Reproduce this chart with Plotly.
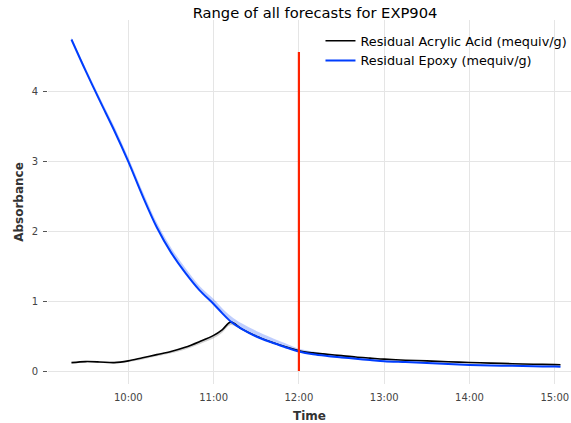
import plotly.graph_objects as go

day = "2023-01-01 "
times = ["09:20", "09:30", "09:40", "09:50", "10:00", "10:10", "10:20", "10:30", "10:40", "10:50",
         "11:00", "11:06", "11:12", "11:20", "11:30", "11:40", "11:50", "12:00", "12:10", "12:20",
         "12:30", "12:40", "12:50", "13:00", "13:15", "13:30", "13:45", "14:00", "14:15", "14:30",
         "14:45", "15:00", "15:04"]

acrylic = [0.12, 0.135, 0.13, 0.12, 0.145, 0.19, 0.235, 0.28, 0.34, 0.42,
           0.51, 0.59, 0.70, 0.60, 0.50, 0.42, 0.35, 0.29, 0.26, 0.24,
           0.22, 0.20, 0.185, 0.17, 0.155, 0.145, 0.132, 0.122, 0.113, 0.105,
           0.098, 0.092, 0.09]
acrylic_low = [0.11, 0.125, 0.12, 0.11, 0.13, 0.165, 0.21, 0.255, 0.31, 0.385,
               0.47, 0.55, 0.66, 0.59, 0.49, 0.41, 0.34, 0.28, 0.25, 0.23,
               0.21, 0.19, 0.175, 0.16, 0.145, 0.135, 0.122, 0.112, 0.104, 0.096,
               0.09, 0.085, 0.083]

epoxy = [4.75, 4.30, 3.87, 3.45, 3.0, 2.51, 2.06, 1.70, 1.41, 1.16,
         0.96, 0.83, 0.71, 0.60, 0.495, 0.415, 0.345, 0.28, 0.24, 0.215,
         0.195, 0.175, 0.158, 0.14, 0.128, 0.115, 0.10, 0.088, 0.08, 0.074,
         0.068, 0.063, 0.062]
epoxy_high = [4.78, 4.34, 3.92, 3.51, 3.06, 2.58, 2.13, 1.77, 1.48, 1.22,
              1.03, 0.90, 0.79, 0.68, 0.575, 0.485, 0.40, 0.32, 0.28, 0.245,
              0.22, 0.195, 0.175, 0.155, 0.14, 0.126, 0.11, 0.097, 0.088, 0.081,
              0.075, 0.07, 0.069]

cutoff_time = "12:00"
cutoff_range = [0, 4.57]

y_ticks = [0, 1, 2, 3, 4]

x = [day + t for t in times]
spl = dict(shape="spline", smoothing=0.9)

fig = go.Figure()

# forecast ranges
fig.add_trace(go.Scatter(x=x, y=acrylic_low, mode="lines", line=dict(width=0, **spl),
                         showlegend=False, hoverinfo="skip"))
fig.add_trace(go.Scatter(x=x, y=acrylic, mode="lines", line=dict(width=0, **spl), fill="tonexty",
                         fillcolor="rgba(120,120,120,0.35)", showlegend=False, hoverinfo="skip"))
fig.add_trace(go.Scatter(x=x, y=epoxy_high, mode="lines", line=dict(width=0, **spl),
                         showlegend=False, hoverinfo="skip"))
fig.add_trace(go.Scatter(x=x, y=epoxy, mode="lines", line=dict(width=0, **spl), fill="tonexty",
                         fillcolor="rgba(0,61,253,0.25)", showlegend=False, hoverinfo="skip"))

fig.add_trace(go.Scatter(x=x, y=acrylic, mode="lines", name="Residual Acrylic Acid (mequiv/g)",
                         line=dict(color="#000000", width=1.6, **spl)))
fig.add_trace(go.Scatter(x=x, y=epoxy, mode="lines", name="Residual Epoxy (mequiv/g)",
                         line=dict(color="#003DFD", width=2, **spl)))
fig.add_trace(go.Scatter(x=[day + cutoff_time, day + cutoff_time], y=cutoff_range, mode="lines",
                         line=dict(color="#ff2200", width=2.2), showlegend=False))

fig.update_layout(
    width=571, height=423,
    margin=dict(l=48, r=0, t=20, b=39, autoexpand=False),
    paper_bgcolor="white", plot_bgcolor="white",
    font=dict(family="DejaVu Sans", size=10, color="#444444"),
    title=dict(text="Range of all forecasts for EXP904", x=315/571, xanchor="center",
               y=1 - 12.7/423, yanchor="middle", xref="container", yref="container",
               font=dict(size=14.7, color="#000000")),
    legend=dict(x=0.521, y=0.9836, xref="paper", yref="paper", xanchor="left", yanchor="top",
                bgcolor="rgba(0,0,0,0)", font=dict(size=12.8, color="#000000"),
                traceorder="normal", tracegroupgap=0, itemwidth=30),
    showlegend=True,
)
fig.update_xaxes(
    type="date", range=[day + "09:03:30", day + "15:11:24"],
    tickformat="%H:%M", dtick=3600000, tick0=day + "10:00",
    showgrid=True, gridcolor="#e5e5e5", gridwidth=1, zeroline=False, showline=False,
    ticks="", ticklabelstandoff=6,
    title=dict(text="<b>Time</b>", font=dict(size=12, color="#333333"), standoff=10),
)
fig.update_yaxes(
    range=[-0.186, 5.029], tickmode="array", tickvals=y_ticks,
    showgrid=True, gridcolor="#e5e5e5", gridwidth=1, zeroline=False, showline=False,
    ticks="outside", ticklen=4, tickcolor="#555555", ticklabelstandoff=3,
    title=dict(text="<b>Absorbance</b>", font=dict(size=12, color="#333333"), standoff=5),
)

fig.write_html("out.html", config={"responsive": False, "displayModeBar": False},
               post_script="document.body.style.margin='0';document.body.style.overflow='hidden';")
